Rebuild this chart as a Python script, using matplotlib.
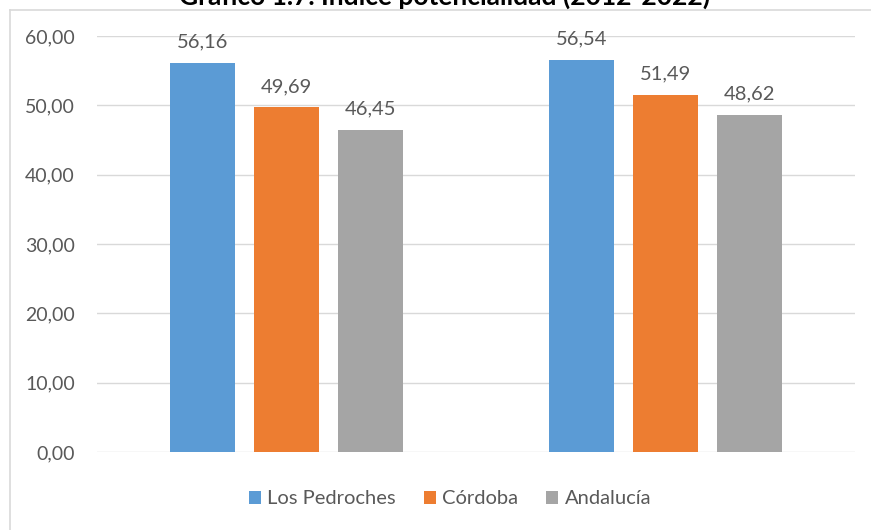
import matplotlib
matplotlib.use("Agg")
import matplotlib.pyplot as plt
from matplotlib.lines import Line2D
from matplotlib.patches import Patch
import numpy as np

title = "Gráfico 1.7. Índice potencialidad (2012-2022)"
categories = ["2012", "2022"]
series = ["Los Pedroches", "Córdoba", "Andalucía"]
los_pedroches = [56.16, 56.54]
cordoba = [49.69, 51.49]
andalucia = [46.45, 48.62]
values = [los_pedroches, cordoba, andalucia]
colors = ["#5B9BD5", "#ED7D31", "#A5A5A5"]
yticks = [0, 10, 20, 30, 40, 50, 60]

plt.rcParams['font.family'] = ['Lato', 'DejaVu Sans']

W, H = 871, 530
fig = plt.figure(figsize=(W / 100, H / 100), dpi=100)
fig.patch.set_facecolor("white")

# chart border
fig.add_artist(Line2D([10 / W, 1.0], [1 - 10 / H, 1 - 10 / H], color="#d9d9d9", lw=1.2))
fig.add_artist(Line2D([10 / W, 10 / W], [1 - 10 / H, 0.0], color="#d9d9d9", lw=1.2))

ax = fig.add_axes([97 / W, 1 - 452 / H, (855 - 97) / W, (452 - 36) / H])
x = np.arange(len(categories))
width = 0.174
pitch = 0.2216
for i, (vals, c, name) in enumerate(zip(values, colors, series)):
    pos = x + (i - 1) * pitch
    bars = ax.bar(pos, vals, width=width, color=c, label=name, zorder=3)
    for b, v in zip(bars, vals):
        ax.annotate(f"{v:.2f}".replace(".", ","), (b.get_x() + b.get_width() / 2, v),
                    xytext=(0, 9), textcoords="offset points", ha="center", va="bottom",
                    fontsize=14.5, color="#595959")

ax.set_xlim(-0.5, 1.5)
ax.set_ylim(0, 60)
ax.set_yticks(yticks)
ax.set_yticklabels([f"{t:.2f}".replace(".", ",") for t in yticks], fontsize=14, color="#595959")
ax.set_xticks([])
ax.grid(axis="y", color="#d9d9d9", lw=1.0, zorder=0)
for s in ax.spines.values():
    s.set_visible(False)
ax.tick_params(axis="y", length=0, pad=16)
ax.set_axisbelow(True)

handles = [Patch(facecolor=c, edgecolor="none") for c in colors]
fig.legend(handles, series, loc="center", bbox_to_anchor=(450 / W, 1 - 499 / H), ncol=3,
           frameon=False, fontsize=14.5, handlelength=0.6, handleheight=0.6,
           handletextpad=0.3, columnspacing=1.4, labelcolor="#595959")

fig.text(445 / W, 1 - 5 / H, title, ha="center", va="baseline", fontsize=19,
         fontweight="bold", color="black")

fig.savefig("out.png", dpi=100, facecolor="white")
